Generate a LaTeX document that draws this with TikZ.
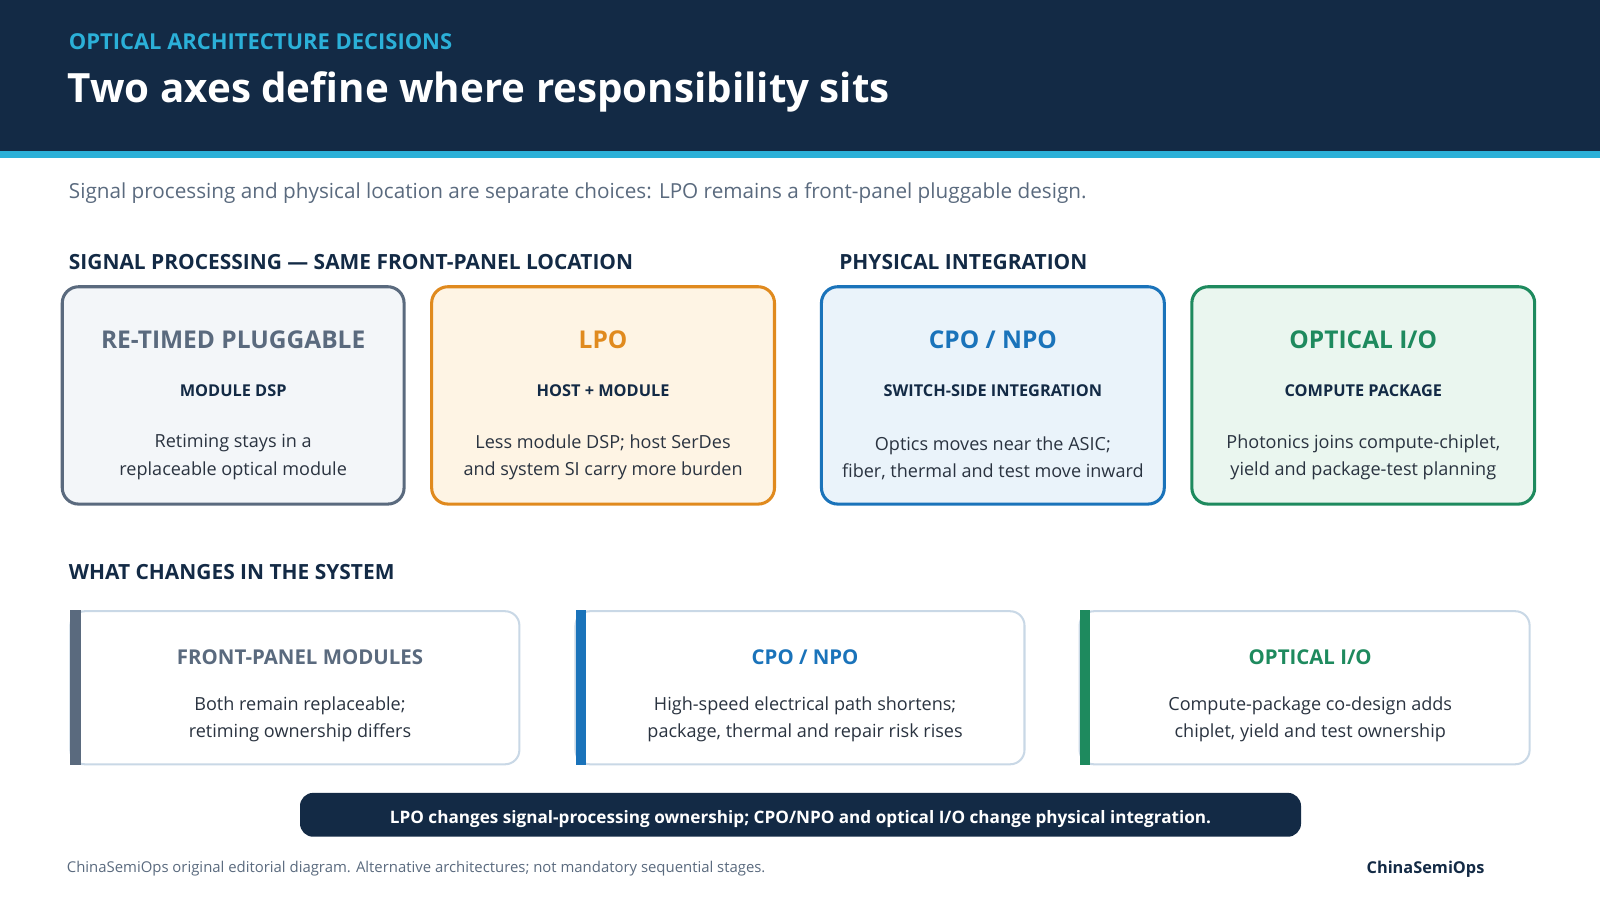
\documentclass[tikz,border=0pt]{standalone}
\usepackage{fontspec}
\setmainfont{Open Sans}
\definecolor{navy}{HTML}{132A45}
\definecolor{cyanx}{HTML}{2BB0D8}
\definecolor{grayt}{HTML}{5A6A7E}
\definecolor{grayf}{HTML}{F3F6F9}
\definecolor{orat}{HTML}{E08A1E}
\definecolor{oraf}{HTML}{FEF4E4}
\definecolor{bluet}{HTML}{1A73BA}
\definecolor{bluef}{HTML}{EAF3FA}
\definecolor{greent}{HTML}{1E8A5E}
\definecolor{greenf}{HTML}{EAF6EF}
\definecolor{lineb}{HTML}{C9D8E6}
\definecolor{txt}{HTML}{2A3340}
\begin{document}
\begin{tikzpicture}[x=1pt,y=-1pt,
  fs/.style={font=\fontsize{#1}{#1}\selectfont},
  head/.style={anchor=west,text=navy,font=\fontsize{20.5}{20.5}\selectfont\bfseries},
  card/.style={draw=#1,line width=3pt,rounded corners=16pt},
  ctitle/.style={font=\fontsize{24}{24}\selectfont\bfseries},
  csub/.style={text=navy,font=\fontsize{16}{16}\selectfont\bfseries},
  cbody/.style={text=txt,align=center,font=\fontsize{17.7}{27}\selectfont},
  bcard/.style={draw=lineb,line width=2pt,rounded corners=14pt,fill=white},
  btitle/.style={font=\fontsize{20}{20}\selectfont\bfseries},
]
\useasboundingbox (0,0) rectangle (1568,882);
\fill[navy] (0,0) rectangle (1568,148);
\fill[cyanx] (0,148) rectangle (1568,155);
\node[anchor=west,text=cyanx,font=\fontsize{21.5}{21.5}\selectfont\bfseries] (kicker) at (64,41) {OPTICAL ARCHITECTURE DECISIONS};
\node[anchor=west,text=white,font=\fontsize{39.5}{39.5}\selectfont\bfseries] (title) at (63,90) {Two axes define where responsibility sits};
\node[anchor=west,text=grayt,fs=20.3] (sub) at (64,189) {Signal processing and physical location are separate choices: LPO remains a front-panel pluggable design.};
\node[head] (h1) at (64,257) {SIGNAL PROCESSING — SAME FRONT-PANEL LOCATION};
\node[head] (h2) at (819,257) {PHYSICAL INTEGRATION};
% top cards
\foreach \xa/\xb/\c/\f/\n in {61/396/grayt/grayf/a,423/759/orat/oraf/b,805/1141/bluet/bluef/c,1168/1504/greent/greenf/d}{
  \draw[card=\c,fill=\f] (\xa,281) rectangle (\xb,494);
}
\node[ctitle,text=grayt] (ta) at (228.5,333) {RE-TIMED PLUGGABLE};
\node[csub] (sa) at (228.5,383) {MODULE DSP};
\node[cbody] (ba) at (228.5,448) {Retiming stays in a\\replaceable optical module};
\node[ctitle,text=orat] (tb) at (591,333) {LPO};
\node[csub] (sb) at (591,383) {HOST + MODULE};
\node[cbody] (bb) at (591,448) {Less module DSP; host SerDes\\and system SI carry more burden};
\node[ctitle,text=bluet] (tc) at (973,333) {CPO / NPO};
\node[csub] (sc) at (973,383) {SWITCH-SIDE INTEGRATION};
\node[cbody] (bc) at (973,449) {Optics moves near the ASIC;\\fiber, thermal and test move inward};
\node[ctitle,text=greent] (td) at (1336,333) {OPTICAL I/O};
\node[csub] (sd) at (1336,383) {COMPUTE PACKAGE};
\node[cbody] (bd) at (1336,448) {Photonics joins compute-chiplet,\\yield and package-test planning};
\node[head] (h3) at (64,561) {WHAT CHANGES IN THE SYSTEM};
% bottom cards
\foreach \xa/\xb/\c in {69/509/grayt,564/1004/bluet,1058/1499/greent}{
  \draw[bcard] (\xa,599) rectangle (\xb,749);
  \fill[\c] (\xa,598) rectangle (\xa+10,750);
}
\node[btitle,text=grayt] (t1) at (294,644) {FRONT-PANEL MODULES};
\node[cbody] (b1) at (294,705) {Both remain replaceable;\\retiming ownership differs};
\node[btitle,text=bluet] (t2) at (789,644) {CPO / NPO};
\node[cbody] (b2) at (789,705) {High-speed electrical path shortens;\\package, thermal and repair risk rises};
\node[btitle,text=greent] (t3) at (1284,644) {OPTICAL I/O};
\node[cbody] (b3) at (1284,705) {Compute-package co-design adds\\chiplet, yield and test ownership};
\fill[navy,rounded corners=13pt] (294,777) rectangle (1275,820);
\node[text=white,font=\fontsize{16.8}{16.8}\selectfont\bfseries] (pill) at (784.5,803) {LPO changes signal-processing ownership; CPO/NPO and optical I/O change physical integration.};
\node[anchor=west,text=grayt,fs=14.6] (foot) at (62,851) {ChinaSemiOps original editorial diagram. Alternative architectures; not mandatory sequential stages.};
\node[text=navy,font=\fontsize{16}{16}\selectfont\bfseries] (brand) at (1397,852) {ChinaSemiOps};
\end{tikzpicture}
\end{document}
